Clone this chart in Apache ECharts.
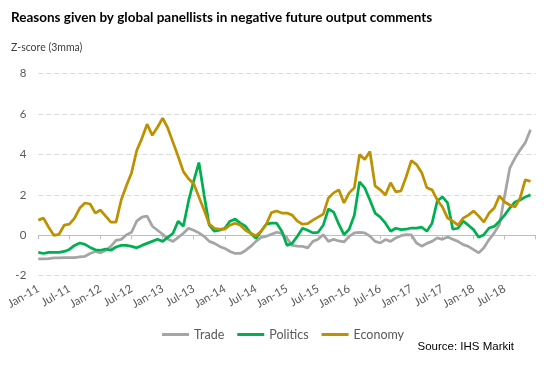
<!DOCTYPE html>
<html>
<head>
<meta charset="utf-8">
<script src="https://cdn.jsdelivr.net/npm/echarts@6/dist/echarts.min.js"></script>
<style>html,body{margin:0;padding:0;background:#fff;}#c{width:552px;height:380px;}</style>
</head>
<body>
<div id="c"></div>
<script>
// Categories: monthly, Jan-11 .. Jan-19 (axis end)
const monthNames = ['Jan','Feb','Mar','Apr','May','Jun','Jul','Aug','Sep','Oct','Nov','Dec'];
const startYear = 2011;
const categories = [];
for (let i = 0; i <= 96; i++) {
  const y = startYear + Math.floor(i / 12);
  categories.push(monthNames[i % 12] + '-' + String(y).slice(2));
}
const yTicks = [-2, 0, 2, 4, 6, 8];

const trade = [-1.17,-1.17,-1.15,-1.12,-1.12,-1.1,-1.1,-1.1,-1.07,-1.04,-0.9,-0.8,-0.87,-0.75,-0.55,-0.25,-0.2,0.02,0.15,0.7,
  0.9,0.95,0.45,0.25,0.05,-0.2,-0.3,-0.1,0.1,0.35,0.25,0.12,-0.05,-0.3,-0.4,-0.55,-0.65,-0.8,-0.9,-0.9,
  -0.75,-0.55,-0.3,-0.1,-0.05,0.05,0.15,0.1,-0.15,-0.5,-0.54,-0.55,-0.62,-0.3,-0.2,0.03,-0.3,-0.2,-0.28,-0.33,
  -0.05,0.12,0.15,0.12,-0.04,-0.3,-0.38,-0.21,-0.3,-0.13,-0.02,0.03,0.02,-0.38,-0.54,-0.4,-0.3,-0.13,-0.2,-0.08,
  -0.2,-0.3,-0.46,-0.55,-0.71,-0.87,-0.62,-0.21,0.12,0.53,1.93,3.33,3.82,4.23,4.59,5.22];
const politics = [-0.85,-0.9,-0.85,-0.85,-0.85,-0.8,-0.7,-0.5,-0.38,-0.45,-0.6,-0.72,-0.74,-0.68,-0.74,-0.58,-0.5,-0.5,-0.55,-0.62,
  -0.5,-0.4,-0.3,-0.2,-0.3,-0.1,0.1,0.7,0.45,1.7,2.7,3.6,2.0,0.5,0.2,0.25,0.35,0.7,0.8,0.6,
  0.45,0.1,-0.15,0.2,0.55,0.6,0.6,0.2,-0.5,-0.4,-0.05,0.35,0.25,0.12,0.15,0.5,1.3,1.15,0.55,0.03,
  0.3,1.0,2.65,2.35,1.75,1.1,0.9,0.6,0.2,0.35,0.28,0.3,0.36,0.36,0.4,0.2,0.6,1.7,1.9,1.6,
  0.3,0.35,0.7,0.5,0.28,-0.1,0.03,0.36,0.44,0.7,1.0,1.35,1.65,1.75,1.9,2.0];
const economy = [0.75,0.85,0.4,0.0,0.05,0.5,0.55,0.85,1.35,1.6,1.55,1.1,1.25,0.95,0.65,0.65,1.75,2.45,3.1,4.2,
  4.8,5.5,4.95,5.35,5.8,5.3,4.6,3.9,3.15,2.8,2.55,1.9,1.25,0.55,0.35,0.3,0.3,0.5,0.6,0.5,
  0.25,0.1,-0.02,0.2,0.55,1.12,1.2,1.1,1.1,1.0,0.7,0.55,0.58,0.75,0.9,1.05,1.85,2.1,2.25,1.6,
  2.1,2.35,4.0,3.75,4.15,2.45,2.25,2.0,2.6,2.15,2.2,2.9,3.7,3.5,3.1,2.35,2.25,1.75,1.4,0.85,
  0.7,0.5,0.85,1.0,1.2,0.95,0.65,1.1,1.35,1.95,1.65,1.5,1.4,1.85,2.75,2.67];

const seriesNames = ['Trade', 'Politics', 'Economy'];
const seriesColors = ['#a5a5a5', '#00b050', '#bf9000'];
const seriesData = [trade, politics, economy];

const chart = echarts.init(document.getElementById('c'), null, {renderer: 'canvas'});
const labelFont = 'Lato, "Open Sans", sans-serif';
chart.setOption({
  animation: false,
  backgroundColor: '#ffffff',
  title: [
    {text: 'Reasons given by global panellists in negative future output comments', left: 6, top: 6,
     textStyle: {fontFamily: labelFont, fontWeight: 'bold', fontSize: 13.5, color: '#000000'}},
    {text: 'Z-score (3mma)', left: 6, top: 37,
     textStyle: {fontFamily: labelFont, fontWeight: 'normal', fontSize: 10.5, color: '#404040'}},
    {text: 'Source: IHS Markit', right: 33, top: 336,
     textStyle: {fontFamily: '"Liberation Sans", Arial, sans-serif', fontWeight: 'normal', fontSize: 11.5, color: '#000000'}}
  ],
  legend: {
    data: seriesNames, left: 157, top: 323, icon: 'rect', itemWidth: 27, itemHeight: 3, itemGap: 13,
    textStyle: {fontFamily: labelFont, fontSize: 12.5, color: '#595959'}
  },
  grid: {left: 38.3, right: 16.3, top: 73.7, bottom: 104.3, containLabel: false},
  xAxis: [
    {type: 'category', data: categories, boundaryGap: false, position: 'bottom',
     axisLine: {show: false, onZero: false}, axisTick: {show: false},
     axisLabel: {interval: 5, rotate: 30, margin: 12, fontFamily: labelFont, fontSize: 11.5, color: '#595959',
       formatter: (v, i) => (i === 96 ? '' : v)},
     splitLine: {show: false}},
    {type: 'category', data: categories, boundaryGap: false, position: 'bottom',
     axisLine: {show: true, onZero: true, lineStyle: {color: '#bfbfbf', width: 1}},
     axisTick: {show: true, interval: 5, length: 4, inside: false, lineStyle: {color: '#bfbfbf'}},
     axisLabel: {show: false}, splitLine: {show: false}}
  ],
  yAxis: {
    type: 'value', min: yTicks[0], max: yTicks[yTicks.length - 1], interval: 2,
    axisLine: {show: false}, axisTick: {show: false},
    axisLabel: {margin: 12, fontFamily: labelFont, fontSize: 11.5, color: '#595959'},
    splitLine: {show: true, lineStyle: {color: '#d9d9d9', type: [5, 3], width: 1}}
  },
  series: seriesNames.map((n, k) => ({
    name: n, type: 'line', data: seriesData[k], xAxisIndex: 0, symbol: 'none', smooth: false,
    lineStyle: {color: seriesColors[k], width: 2.75}, itemStyle: {color: seriesColors[k]}
  }))
});
</script>
</body>
</html>
